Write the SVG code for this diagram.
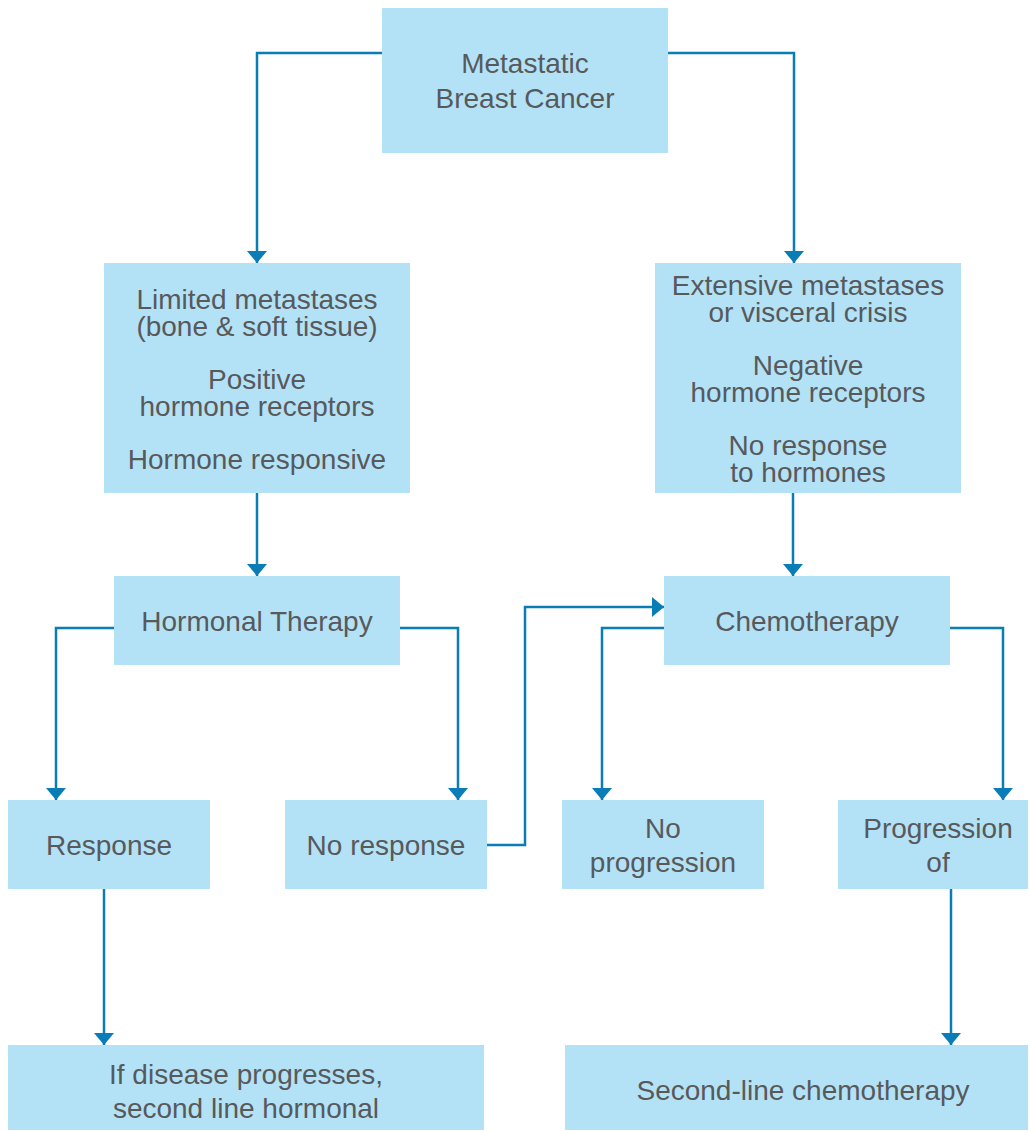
<svg xmlns="http://www.w3.org/2000/svg" width="1030" height="1131" viewBox="0 0 1030 1131">
<defs>
<style>
.box{fill:#b3e2f7}
.t{font-family:"Liberation Sans",Arial,sans-serif;font-size:28px;fill:#58595b;text-anchor:middle}
.c{fill:none;stroke:#0a7cb6;stroke-width:2.5}
</style>
<marker id="ah" viewBox="0 0 12 20" refX="12" refY="10" markerWidth="12" markerHeight="20" markerUnits="userSpaceOnUse" orient="auto">
<path d="M0,0 L12,10 L0,20 Z" fill="#0a7cb6"/>
</marker>
</defs>
<rect width="1030" height="1131" fill="#fff"/>
<g id="connectors">
<path class="c" d="M382,53 H257 V263" marker-end="url(#ah)"/>
<path class="c" d="M668,53 H794 V263" marker-end="url(#ah)"/>
<path class="c" d="M257,493 V576" marker-end="url(#ah)"/>
<path class="c" d="M793,493 V576" marker-end="url(#ah)"/>
<path class="c" d="M114,628 H56 V800" marker-end="url(#ah)"/>
<path class="c" d="M400,628 H458 V800" marker-end="url(#ah)"/>
<path class="c" d="M487,845 H525 V607 H664" marker-end="url(#ah)"/>
<path class="c" d="M664,628 H602 V800" marker-end="url(#ah)"/>
<path class="c" d="M950,628 H1003 V800" marker-end="url(#ah)"/>
<path class="c" d="M104,889 V1045" marker-end="url(#ah)"/>
<path class="c" d="M951,889 V1045" marker-end="url(#ah)"/>
</g>
<g id="n-mbc"><rect class="box" x="382" y="8" width="286" height="145"/>
<text class="t" x="525" y="73">Metastatic</text><text class="t" x="525" y="108">Breast Cancer</text></g>
<g id="n-limited"><rect class="box" x="104" y="263" width="306" height="230"/>
<text class="t" x="257" y="309">Limited metastases</text><text class="t" x="257" y="336">(bone &amp; soft tissue)</text>
<text class="t" x="257" y="389">Positive</text><text class="t" x="257" y="416">hormone receptors</text>
<text class="t" x="257" y="469">Hormone responsive</text></g>
<g id="n-extensive"><rect class="box" x="655" y="263" width="306" height="230"/>
<text class="t" x="808" y="295">Extensive metastases</text><text class="t" x="808" y="322">or visceral crisis</text>
<text class="t" x="808" y="375">Negative</text><text class="t" x="808" y="402">hormone receptors</text>
<text class="t" x="808" y="455">No response</text><text class="t" x="808" y="482">to hormones</text></g>
<g id="n-hormonal"><rect class="box" x="114" y="576" width="286" height="89"/>
<text class="t" x="257" y="631">Hormonal Therapy</text></g>
<g id="n-chemo"><rect class="box" x="664" y="576" width="286" height="89"/>
<text class="t" x="807" y="631">Chemotherapy</text></g>
<g id="n-response"><rect class="box" x="8" y="800" width="202" height="89"/>
<text class="t" x="109" y="855">Response</text></g>
<g id="n-noresponse"><rect class="box" x="285" y="800" width="202" height="89"/>
<text class="t" x="386" y="855">No response</text></g>
<g id="n-noprog"><rect class="box" x="562" y="800" width="202" height="89"/>
<text class="t" x="663" y="838">No</text><text class="t" x="663" y="872">progression</text></g>
<g id="n-prog"><rect class="box" x="838" y="800" width="190" height="89"/>
<text class="t" x="938" y="838">Progression</text><text class="t" x="938" y="872">of</text></g>
<g id="n-ifdisease"><rect class="box" x="8" y="1045" width="476" height="85"/>
<text class="t" x="246" y="1084">If disease progresses,</text><text class="t" x="246" y="1118">second line hormonal</text></g>
<g id="n-secondline"><rect class="box" x="565" y="1045" width="463" height="85"/>
<text class="t" x="803" y="1100">Second-line chemotherapy</text></g>
</svg>
